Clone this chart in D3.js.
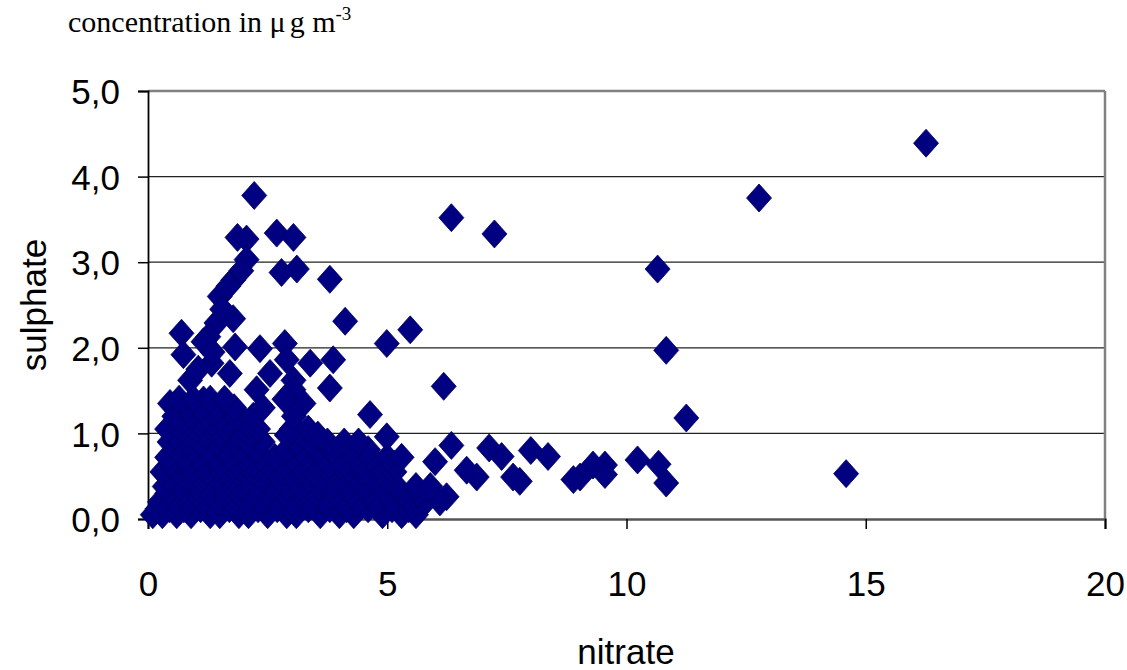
<!DOCTYPE html>
<html>
<head>
<meta charset="utf-8">
<script src="https://cdn.jsdelivr.net/npm/d3@7"></script>
<style>
  body { margin: 0; background: #fff; }
  svg text { fill: #000; }
</style>
</head>
<body>
<div id="chart"></div>
<script>
var width = 1127;
var height = 670;

// scatter points, nitrate (x) and sulphate (y)
var nitrate = [
    16.26, 12.77, 14.59, 10.65, 10.83, 11.25, 10.23, 10.67, 10.83, 9.55, 9.55, 9.30, 9.03, 8.89,
    8.36, 8.00, 7.77, 7.63, 7.39, 7.13, 6.87, 6.66, 6.34, 6.00, 6.24, 6.34, 7.24, 6.18, 4.99, 5.48,
    2.22, 1.87, 2.06, 2.69, 3.04, 2.79, 3.11, 3.80, 4.12, 2.06, 1.78, 1.95, 1.50, 1.68, 1.78, 1.43,
    1.26, 1.16, 0.70, 0.74, 1.82, 2.34, 2.86, 2.90, 3.39, 3.87, 3.04, 3.80, 3.04, 1.33, 0.88, 1.71,
    2.55, 2.27, 0.46, 1.16, 4.64, 3.25, 1.55, 1.35, 1.05,
    // dense cluster
    0.10, 0.30, 0.60, 0.90, 1.30, 1.50, 1.90, 2.10, 2.50, 2.90, 3.10, 3.60, 4.00, 4.30, 4.90, 5.30, 5.60,
    0.20, 0.45, 0.75, 1.10, 1.40, 1.70, 2.00, 2.30, 2.70, 3.00, 3.35, 3.80, 4.15, 4.60, 5.10, 5.45,
    0.25, 0.55, 0.85, 1.15, 1.45, 1.75, 2.05, 2.35, 2.70, 3.00, 3.35, 3.70, 4.05, 4.40, 4.75, 5.10, 5.45, 5.80, 6.10,
    0.40, 0.70, 1.00, 1.30, 1.60, 1.90, 2.20, 2.50, 2.85, 3.20, 3.50, 3.90, 4.25, 4.60, 4.95, 5.30, 5.65,
    0.35, 0.65, 1.00, 1.30, 1.60, 1.95, 2.25, 2.60, 2.90, 3.20, 3.55, 3.85, 4.20, 4.55, 4.90, 5.20, 5.60, 5.90,
    0.45, 0.80, 1.10, 1.45, 1.75, 2.05, 2.40, 2.75, 3.05, 3.35, 3.65, 4.00, 4.35, 4.70, 5.00,
    0.30, 0.60, 0.90, 1.25, 1.55, 1.85, 2.20, 2.50, 2.80, 3.15, 3.45, 3.80, 4.15, 4.50, 4.85, 5.15,
    0.50, 0.85, 1.20, 1.50, 1.85, 2.20, 2.50, 2.85, 3.15, 3.50, 3.80, 4.10, 4.45, 4.80, 5.15,
    0.40, 0.75, 1.05, 1.40, 1.70, 2.00, 2.35, 2.65, 3.00, 3.30, 3.65, 3.95, 4.30, 4.65, 5.00, 5.30,
    0.60, 0.95, 1.25, 1.60, 1.95, 2.25, 2.90, 3.20, 3.55, 3.85, 4.25, 4.60,
    0.45, 0.80, 1.10, 1.45, 1.80, 2.10, 2.40, 3.10, 3.40, 3.75, 4.10, 4.40, 4.99,
    0.55, 0.85, 1.20, 1.50, 1.80, 2.15, 2.90, 3.20, 3.55,
    0.40, 0.70, 1.00, 1.35, 1.65, 2.00, 2.30, 3.00, 3.35,
    0.70, 1.05, 1.35, 1.70, 2.05,
    0.55, 0.90, 1.20, 1.50, 1.85, 2.20, 3.05,
    0.80, 1.10, 1.45, 1.80, 2.40,
    0.65, 0.95, 1.30, 1.60, 2.85
];
var sulphate = [
    4.39, 3.75, 0.53, 2.92, 1.97, 1.18, 0.69, 0.64, 0.42, 0.63, 0.52, 0.63, 0.49, 0.46,
    0.73, 0.80, 0.44, 0.49, 0.73, 0.83, 0.49, 0.57, 0.86, 0.67, 0.26, 3.52, 3.33, 1.55, 2.05, 2.21,
    3.78, 3.29, 3.27, 3.34, 3.29, 2.88, 2.92, 2.80, 2.31, 3.03, 2.79, 2.90, 2.60, 2.72, 2.34, 2.29,
    2.13, 2.07, 2.17, 1.92, 2.01, 1.99, 2.05, 1.86, 1.82, 1.86, 1.62, 1.53, 1.51, 1.82, 1.62, 1.70,
    1.70, 1.51, 1.35, 1.39, 1.22, 1.35, 2.45, 1.95, 1.75,
    // dense cluster
    0.05, 0.05, 0.05, 0.05, 0.05, 0.05, 0.05, 0.05, 0.05, 0.05, 0.05, 0.05, 0.05, 0.05, 0.05, 0.05, 0.05,
    0.12, 0.12, 0.12, 0.12, 0.12, 0.12, 0.12, 0.12, 0.12, 0.12, 0.12, 0.12, 0.12, 0.12, 0.12, 0.12,
    0.20, 0.20, 0.20, 0.20, 0.20, 0.20, 0.20, 0.20, 0.20, 0.20, 0.20, 0.20, 0.20, 0.20, 0.20, 0.20, 0.20, 0.20, 0.20,
    0.30, 0.30, 0.30, 0.30, 0.30, 0.30, 0.30, 0.30, 0.30, 0.30, 0.30, 0.30, 0.30, 0.30, 0.30, 0.30, 0.30,
    0.38, 0.38, 0.38, 0.38, 0.38, 0.38, 0.38, 0.38, 0.38, 0.38, 0.38, 0.38, 0.38, 0.38, 0.38, 0.38, 0.38, 0.38,
    0.47, 0.47, 0.47, 0.47, 0.47, 0.47, 0.47, 0.47, 0.47, 0.47, 0.47, 0.47, 0.47, 0.47, 0.47,
    0.55, 0.55, 0.55, 0.55, 0.55, 0.55, 0.55, 0.55, 0.55, 0.55, 0.55, 0.55, 0.55, 0.55, 0.55, 0.55,
    0.64, 0.64, 0.64, 0.64, 0.64, 0.64, 0.64, 0.64, 0.64, 0.64, 0.64, 0.64, 0.64, 0.64, 0.64,
    0.72, 0.72, 0.72, 0.72, 0.72, 0.72, 0.72, 0.72, 0.72, 0.72, 0.72, 0.72, 0.72, 0.72, 0.72, 0.72,
    0.81, 0.81, 0.81, 0.81, 0.81, 0.81, 0.81, 0.81, 0.81, 0.81, 0.81, 0.81,
    0.90, 0.90, 0.90, 0.90, 0.90, 0.90, 0.90, 0.90, 0.90, 0.90, 0.90, 0.90, 0.96,
    0.98, 0.98, 0.98, 0.98, 0.98, 0.98, 0.98, 0.98, 0.98,
    1.05, 1.05, 1.05, 1.05, 1.05, 1.05, 1.05, 1.05, 1.05,
    1.13, 1.13, 1.13, 1.13, 1.13,
    1.20, 1.20, 1.20, 1.20, 1.20, 1.20, 1.20,
    1.30, 1.30, 1.30, 1.30, 1.30,
    1.40, 1.40, 1.40, 1.40, 1.40
];

var xTicks = [0, 5, 10, 15, 20];
var yTicks = [0, 1, 2, 3, 4, 5];
var gridValues = [1, 2, 3, 4];

var plotLeft = 148, plotRight = 1105, plotTop = 91, plotBottom = 519;

var svg = d3.select("#chart").append("svg")
    .attr("width", width).attr("height", height);

var x = d3.scaleLinear().domain([0, 20]).range([plotLeft, plotRight]);
var y = d3.scaleLinear().domain([0, 5]).range([plotBottom, plotTop]);

// grid lines
svg.selectAll(".grid").data(gridValues).enter().append("line")
    .attr("x1", plotLeft).attr("x2", plotRight)
    .attr("y1", function(d) { return y(d); })
    .attr("y2", function(d) { return y(d); })
    .style("stroke", "#222")
    .style("stroke-width", 1.2);

// plot frame, gray on top and right
svg.append("line")
    .attr("x1", plotLeft).attr("x2", plotRight).attr("y1", plotTop).attr("y2", plotTop)
    .style("stroke", "#808080").style("stroke-width", 2.5);
svg.append("line")
    .attr("x1", plotRight).attr("x2", plotRight).attr("y1", plotTop).attr("y2", plotBottom)
    .style("stroke", "#808080").style("stroke-width", 2.5);

// axes
var yAxis = d3.axisLeft(y).tickValues(yTicks).tickSize(10).tickPadding(18)
    .tickFormat(function(d) { return d3.format(".1f")(d).replace(".", ","); });
var xAxis = d3.axisBottom(x).tickValues(xTicks).tickSize(10).tickPadding(42)
    .tickFormat(d3.format("d"));

var gy = svg.append("g").attr("transform", "translate(" + plotLeft + ",0)").call(yAxis);
var gx = svg.append("g").attr("transform", "translate(0," + plotBottom + ")").call(xAxis);

[gx, gy].forEach(function(g) {
    g.select(".domain").style("stroke", "#000").style("stroke-width", 1.8);
    g.selectAll(".tick line").style("stroke", "#000").style("stroke-width", 1.5);
    g.selectAll(".tick text")
        .style("font-family", "'Liberation Sans', Arial, sans-serif")
        .style("font-size", "35px")
        .style("fill", "#000");
});
gx.select(".domain").style("stroke", "#555").style("stroke-width", 2.5);
gy.selectAll(".tick text").attr("dy", "0.36em");

// diamonds
var pts = nitrate.map(function(d, i) { return [d, sulphate[i]]; });
var hw = 12.5, hh = 14;
svg.selectAll(".pt").data(pts).enter().append("path")
    .attr("d", function(d) {
        var cx = x(d[0]), cy = y(d[1]);
        return "M" + cx + "," + (cy - hh) + "L" + (cx + hw) + "," + cy +
            "L" + cx + "," + (cy + hh) + "L" + (cx - hw) + "," + cy + "Z";
    })
    .style("fill", "#000080")
    .style("stroke", "#000066")
    .style("stroke-width", 0.8);

// titles
var title = svg.append("text")
    .attr("x", 68).attr("y", 32)
    .style("font-family", "'Liberation Serif', 'Times New Roman', serif")
    .style("font-size", "30px");
title.append("tspan").text("concentration in μ");
title.append("tspan").attr("dx", 4).text("g m");
title.append("tspan").attr("dy", -12).style("font-size", "19px").text("-3");

svg.append("text")
    .attr("x", 626).attr("y", 664)
    .attr("text-anchor", "middle")
    .style("font-family", "'Liberation Sans', Arial, sans-serif")
    .style("font-size", "35px")
    .text("nitrate");

svg.append("text")
    .attr("transform", "translate(46,305) rotate(-90)")
    .attr("text-anchor", "middle")
    .style("font-family", "'Liberation Sans', Arial, sans-serif")
    .style("font-size", "35px")
    .text("sulphate");
</script>
</body>
</html>
